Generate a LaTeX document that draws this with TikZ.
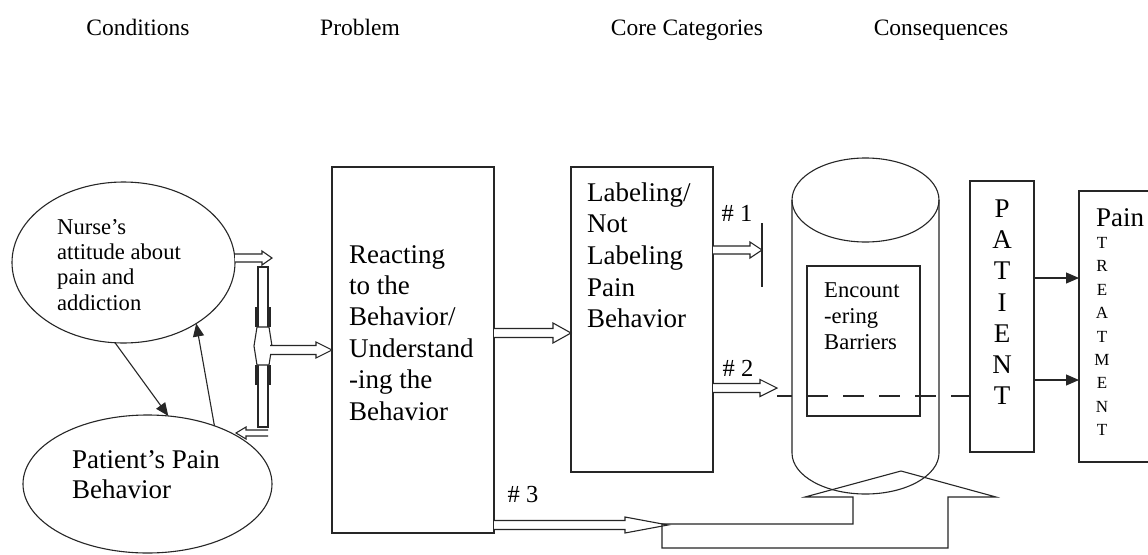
\documentclass[tikz,border=0pt]{standalone}
\usepackage{fontspec}
\setmainfont{Liberation Serif}
\usetikzlibrary{arrows.meta,shapes.geometric}
\tikzset{
  ln/.style={line width=1.1pt, draw=black!85},
  harrow/.style={ln, fill=white, line join=miter},
  tri/.style={-{Triangle[length=13pt,width=11pt]}},
  bigtxt/.style={font=\fontsize{27}{31}\selectfont, inner sep=0pt},
  midtxt/.style={font=\fontsize{22.6}{26}\selectfont, inner sep=0pt},
  hdrtxt/.style={font=\fontsize{23.5}{28}\selectfont, inner sep=0pt},
  smalltxt/.style={font=\fontsize{17}{20}\selectfont, inner sep=0pt},
  numtxt/.style={font=\fontsize{24.5}{28}\selectfont, inner sep=0pt},
  boxnode/.style={ln, rectangle, inner sep=0pt, outer sep=0pt},
  ellnode/.style={ln, ellipse, inner sep=0pt, outer sep=0pt},
}
\newcommand\hollowarr[6]{% x1 x2 y shafthalf headhalf headlen
  \draw[harrow] ({#1},{#3-#4}) -- ({#2-#6},{#3-#4}) -- ({#2-#6},{#3-#5}) -- ({#2},{#3})
    -- ({#2-#6},{#3+#5}) -- ({#2-#6},{#3+#4}) -- ({#1},{#3+#4});}
\begin{document}
\begin{tikzpicture}[x=1pt,y=-1pt]
\useasboundingbox[fill=white] (0,0) rectangle (1148,554);

% headers
\node[hdrtxt,anchor=base] (h1) at (138,35) {Conditions};
\node[hdrtxt,anchor=base] (h2) at (360,35) {Problem};
\node[hdrtxt,anchor=base] (h3) at (687,35) {Core Categories};
\node[hdrtxt,anchor=base] (h4) at (941,35) {Consequences};

% ellipses
\node[ellnode, minimum width=223pt, minimum height=161pt] (nurse) at (123.5,262.5) {};
\foreach \t [count=\i from 0] in {Nurse's,attitude about,pain and,addiction}
  \node[midtxt,anchor=base west] at (57,{234+25.4*\i}) {\t};
\node[ellnode, minimum width=249pt, minimum height=138pt] (patient) at (147.5,484) {};
\node[bigtxt,anchor=base west] at (72,468) {Patient's Pain};
\node[bigtxt,anchor=base west] at (72,498) {Behavior};

\draw[ln,tri] (nurse.-96) -- (patient.73);
\draw[ln,tri] (patient.41) -- (nurse.-40);

% vertical double bar
\draw[harrow] (258,267) rectangle (268,427);
\draw[line width=2.6pt, black!85] (256,307) -- (256,327) (270,307) -- (270,327)
  (256,365) -- (256,385) (270,365) -- (270,385);
\draw[ln, fill=white] (257,327) -- (254,346) -- (257,365) -- (269,365) -- (272,346) -- (269,327) -- cycle;
\hollowarr{235}{272}{258}{4}{7}{10}
\hollowarr{268}{236}{433}{3}{6}{-10}

% Reacting box
\node[boxnode, minimum width=162pt, minimum height=366pt] (react) at (413,350) {};
\foreach \t [count=\i from 0] in {Reacting,to the,Behavior/,Understand,-ing the,Behavior}
  \node[bigtxt,anchor=base west] at (349,{263+31.4*\i}) {\t};
\hollowarr{270}{332}{350}{4.5}{8}{16}

% Labeling box
\node[boxnode, minimum width=142pt, minimum height=305pt] (label) at (642,319.5) {};
\foreach \t [count=\i from 0] in {Labeling/,Not,Labeling,Pain,Behavior}
  \node[bigtxt,anchor=base west] at (587,{201+31.7*\i}) {\t};
\hollowarr{494}{571}{333}{4.5}{10}{18}

% #1 and #2
\hollowarr{713}{762}{250}{4}{8}{12}
\draw[ln] (762,223) -- (762,287);
\node[numtxt] (n1) at (737,213) {\# 1};
\hollowarr{713}{777}{388}{4.5}{8.5}{17}
\node[numtxt] (n2) at (738,368) {\# 2};

% cylinder
\draw[ln] (792,200) -- (792,453) arc[start angle=180,end angle=360,x radius=73.5pt,y radius=41pt] -- (939,200);
\draw[ln] (865.5,200) ellipse[x radius=73.5pt, y radius=42pt];
\node[boxnode, minimum width=113pt, minimum height=150pt] (barr) at (863.5,341) {};
\foreach \t [count=\i from 0] in {Encount,-ering,Barriers}
  \node[midtxt,anchor=base west] at (824,{297+26*\i}) {\t};

% PATIENT box
\node[boxnode, minimum width=64pt, minimum height=271pt] (pat) at (1002,316.5) {};
\foreach \L [count=\i from 0] in {P,A,T,I,E,N,T}
  \node[bigtxt,anchor=base] at (1002,{217.5+31.2*\i}) {\L};

% dashed line through cylinder
\draw[ln] (777,396) -- (792,396);
\draw[ln, dash pattern=on 21pt off 15pt] (807,396) -- (957,396);
\draw[ln] (957,396) -- (pat.west |- 957,396);

% Pain TREATMENT box
\draw[ln] (1152,191) -- (1079,191) -- (1079,462) -- (1152,462);
\coordinate (treatW1) at (1079,278);
\coordinate (treatW2) at (1079,380);
\node[bigtxt,anchor=base west] at (1096,226) {Pain};
\foreach \L [count=\i from 0] in {T,R,E,A,T,M,E,N,T}
  \node[smalltxt,anchor=base] at (1102,{248.5+23.4*\i}) {\L};
\draw[ln,tri] (pat.east |- treatW1) -- (treatW1);
\draw[ln,tri] (pat.east |- treatW2) -- (treatW2);

% #3 and big U arrow
\hollowarr{494}{668}{525}{4.5}{8}{43}
\node[numtxt] (n3) at (523,495) {\# 3};
\draw[ln, line join=miter] (662,524) -- (853,524) -- (853,497) -- (805,497) -- (901,471)
  -- (996,497) -- (948,497) -- (948,548) -- (662,548) -- cycle;
\end{tikzpicture}
\end{document}
